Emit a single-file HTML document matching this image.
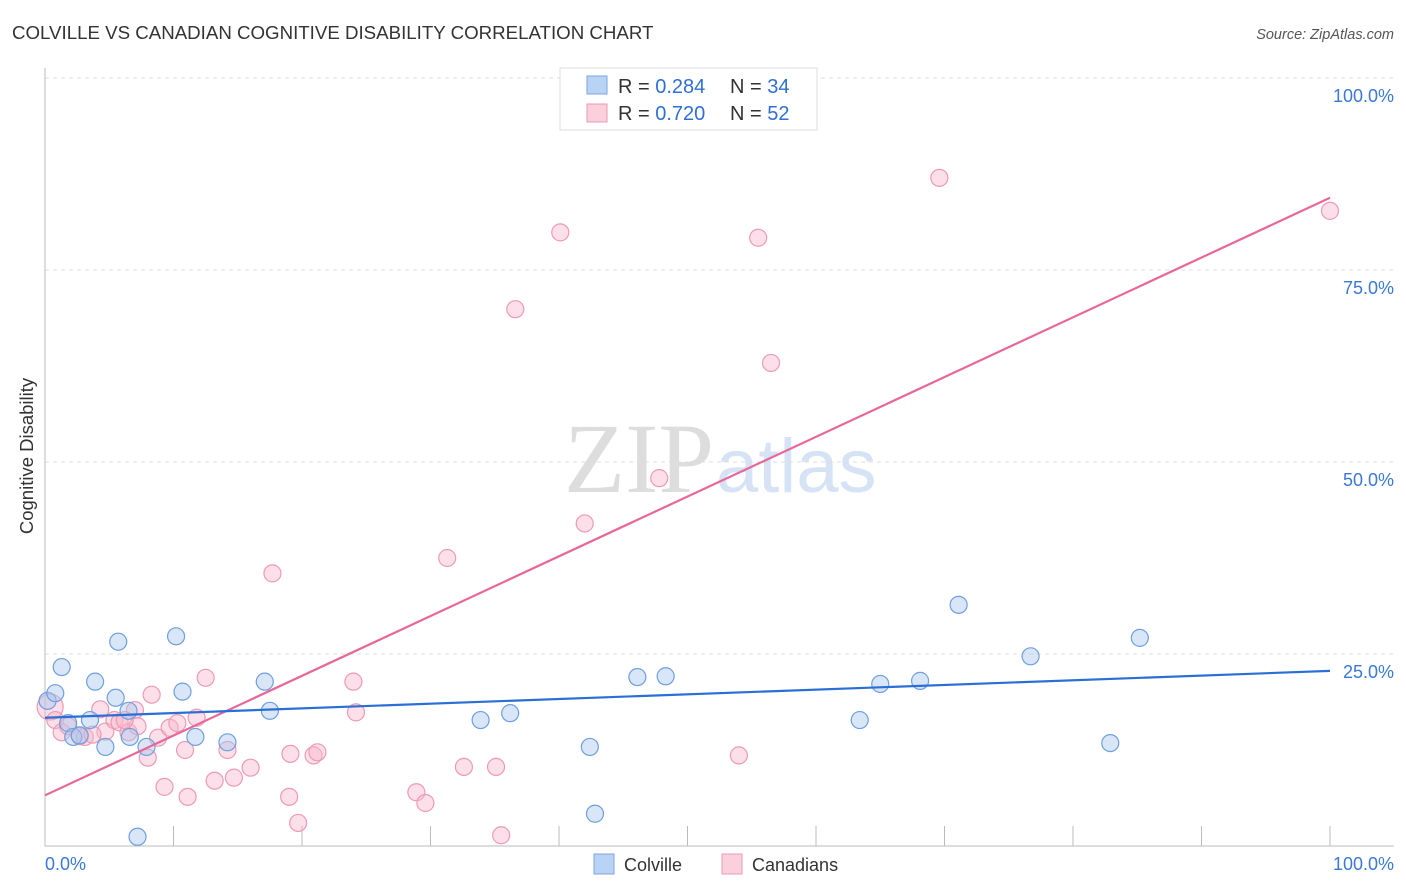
<!DOCTYPE html>
<html><head><meta charset="utf-8"><style>
body{margin:0;background:#fff;font-family:"Liberation Sans",sans-serif;}
svg{display:block}
</style></head><body>
<svg id="chart" width="1406" height="892">
<text x="12" y="39" font-size="18.7" fill="#333">COLVILLE VS CANADIAN COGNITIVE DISABILITY CORRELATION CHART</text>
<text x="1394" y="39" font-size="14.5" fill="#555" font-style="italic" text-anchor="end">Source: ZipAtlas.com</text>
<text x="33" y="456" font-size="18.5" fill="#333" text-anchor="middle" transform="rotate(-90 33 456)">Cognitive Disability</text>
<text x="714" y="492" font-size="100" fill="#ddd" text-anchor="end" font-family="Liberation Serif,serif">ZIP</text>
<text x="716" y="492" font-size="76" fill="#d6e3f5">atlas</text>
<g id="grid"></g><g id="pts"></g><g id="lines"></g>
<g>
<rect x="560" y="68" width="257" height="62" fill="#fff" stroke="#ddd"/>
<rect x="587" y="76" width="20" height="18" fill="#b9d3f5" stroke="#7aa6e0"/>
<rect x="587" y="104" width="20" height="18" fill="#fbcfdc" stroke="#ee9ab5"/>
<text x="618" y="93" font-size="20" fill="#333">R = <tspan fill="#2f6fd6">0.284</tspan></text>
<text x="730" y="93" font-size="20" fill="#333">N = <tspan fill="#2f6fd6">34</tspan></text>
<text x="618" y="120" font-size="20" fill="#333">R = <tspan fill="#2f6fd6">0.720</tspan></text>
<text x="730" y="120" font-size="20" fill="#333">N = <tspan fill="#2f6fd6">52</tspan></text>
</g>
<g>
<rect x="594" y="854" width="20" height="20" fill="#b9d3f5" stroke="#7aa6e0"/>
<text x="624" y="871" font-size="18" fill="#333">Colville</text>
<rect x="722" y="854" width="20" height="20" fill="#fbcfdc" stroke="#ee9ab5"/>
<text x="752" y="871" font-size="18" fill="#333">Canadians</text>
</g>
<text x="45" y="870" font-size="18" fill="#3b78d8">0.0%</text>
<text x="1394" y="870" font-size="18" fill="#3b78d8" text-anchor="end">100.0%</text>
</svg>
<script>
const yTicks=[25,50,75,100];
const yTickLabels=["25.0%","50.0%","75.0%","100.0%"];
const colvilleX=[0.2,0.8,1.3,1.8,2.2,2.7,3.5,3.9,4.7,5.5,5.7,6.5,6.6,7.9,10.2,10.7,11.7,14.2,17.1,17.5,33.9,36.2,42.4,42.8,46.1,48.3,63.4,65.0,68.1,71.1,76.7,82.9,85.2,7.2];
const colvilleY=[18.9,19.9,23.3,16.0,14.2,14.4,16.4,21.4,12.9,19.3,26.6,17.6,14.2,12.9,27.3,20.1,14.2,13.5,21.4,17.6,16.4,17.3,12.9,4.2,22.0,22.1,16.4,21.1,21.5,31.4,24.7,13.4,27.1,1.2];
const canX=[0.4,0.8,1.3,1.8,2.7,3.1,4.3,4.7,5.4,5.8,6.5,7.0,7.2,8.0,8.3,8.8,9.3,9.7,10.3,10.9,11.1,11.8,12.5,13.2,14.2,14.7,16.0,17.7,19.0,19.1,19.7,20.9,21.2,24.0,24.2,28.9,29.6,31.3,32.6,35.1,35.5,36.6,40.1,42.0,47.8,54.0,55.5,56.5,69.6,100.0,6.2,3.7];
const canY=[18.1,16.4,14.8,15.6,14.3,14.2,17.8,14.9,16.4,16.1,14.8,17.7,15.6,11.5,19.7,14.1,7.7,15.4,16.0,12.5,6.4,16.7,21.9,8.5,12.5,8.9,10.2,35.5,6.4,12.0,3.0,11.8,12.2,21.4,17.4,7.0,5.6,37.5,10.3,10.3,1.4,69.9,79.9,42.0,47.9,11.8,79.2,62.9,87.0,82.7,16.4,14.5];
const colTrend=[16.7,22.8];
const canTrend=[6.6,84.4];
const NS="http://www.w3.org/2000/svg";
const X=v=>45+v*12.85, Y=v=>846-v*7.68;
function mk(tag,attrs,parent){const e=document.createElementNS(NS,tag);for(const k in attrs)e.setAttribute(k,attrs[k]);parent.appendChild(e);return e;}
const grid=document.getElementById('grid');
yTicks.forEach((t,i)=>{
 const l=mk('line',{x1:45,x2:1394,y1:Y(t),y2:Y(t),stroke:'#ddd','stroke-dasharray':'4,4'},grid);
 
 
 const tx=mk('text',{x:1394,y:Y(t)+24,'font-size':18,fill:'#3b78d8','text-anchor':'end'},grid);
 tx.textContent=yTickLabels[i];
 
 
});
const ax=mk('path',{d:'M45 68V846H1394',stroke:'#bbb',fill:'none'},grid);


for(let i=1;i<=10;i++){
 const t=mk('line',{x1:X(i*10),x2:X(i*10),y1:826,y2:846,stroke:'#bbb'},grid);
 
 
}
const pts=document.getElementById('pts');
canX.forEach((v,i)=>{
 const c=mk('circle',{cx:X(v),cy:Y(canY[i]),r:i==0?13:8.5,fill:'#f8b9cd','fill-opacity':0.45,stroke:'#ee9ab5','stroke-width':1.2},pts);
 
 
});
colvilleX.forEach((v,i)=>{
 const c=mk('circle',{cx:X(v),cy:Y(colvilleY[i]),r:8.5,fill:'#a9c8f0','fill-opacity':0.45,stroke:'#6f9fe0','stroke-width':1.2},pts);
 
 
});
const lines=document.getElementById('lines');
const l1=mk('line',{x1:X(0),x2:X(100),y1:Y(canTrend[0]),y2:Y(canTrend[1]),stroke:'#e8679a','stroke-width':2.2},lines);


const l2=mk('line',{x1:X(0),x2:X(100),y1:Y(colTrend[0]),y2:Y(colTrend[1]),stroke:'#2a6fd6','stroke-width':2.2},lines);


</script>
</body></html>
